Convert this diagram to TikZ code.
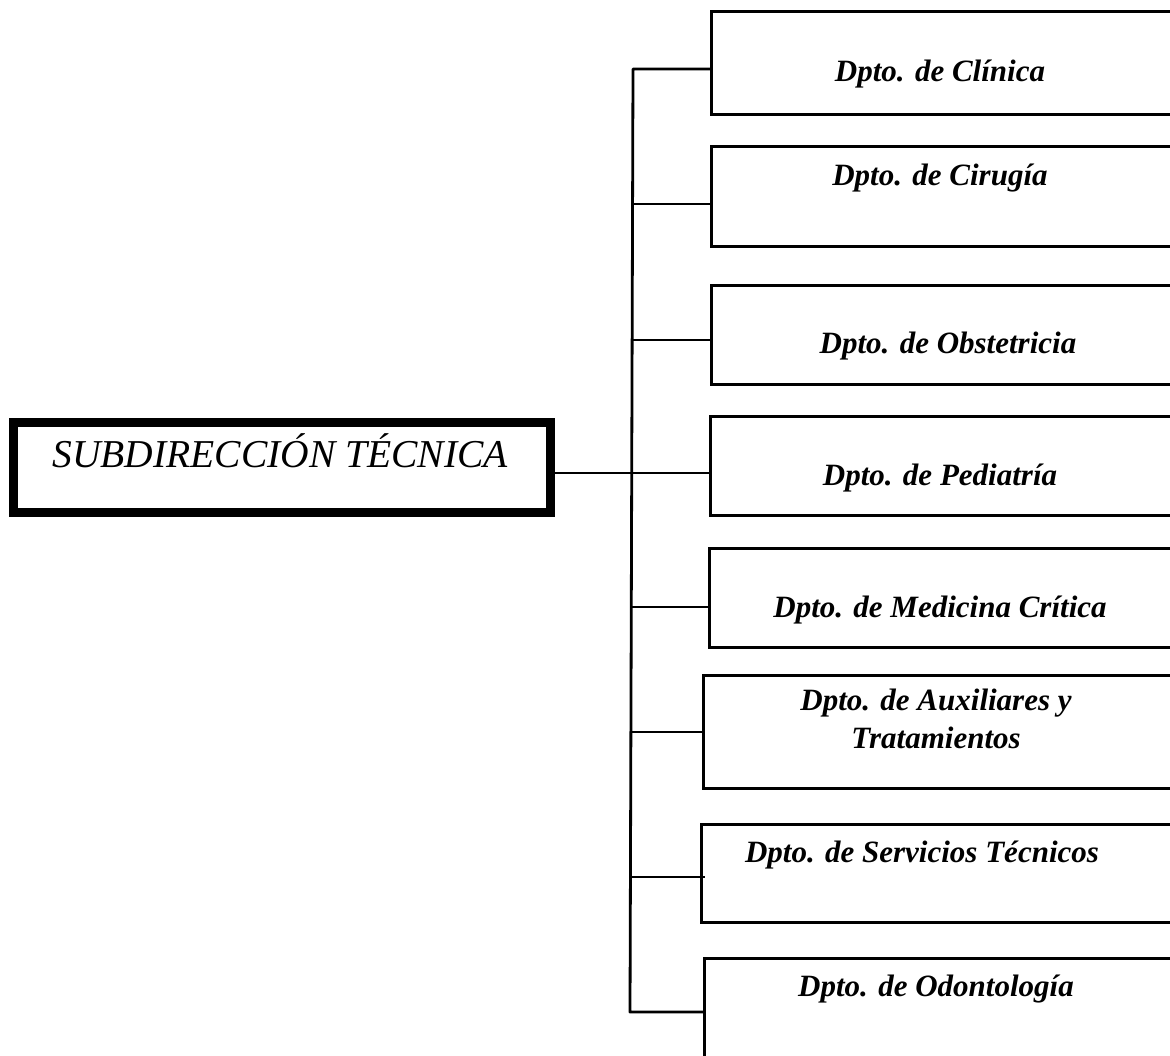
\documentclass[tikz,border=0pt]{standalone}
\usepackage{fontspec}
\setmainfont{Liberation Serif}
\usepackage{tikz}

\begin{document}
\begin{tikzpicture}[x=1pt,y=-1pt,line width=2.8pt,
  main box/.style={rectangle,draw,line width=9pt,inner sep=0pt,minimum width=537pt,minimum height=90pt},
  dpt box/.style={rectangle,draw,inner sep=0pt,anchor=north west},
  main text/.style={anchor=base,inner sep=0pt,font=\fontsize{39.5}{44}\selectfont\itshape},
  dpt text/.style={anchor=base,inner sep=0pt,align=center,font=\fontsize{31}{38}\selectfont\bfseries\itshape}]

  \useasboundingbox (0,0) rectangle (1170,1055);

  % jefatura
  \node[main box] (sub) at (282,467.5) {};
  \node[main text] (subtxt) at (280,467) {SUBDIRECCIÓN TÉCNICA};

  % departamentos
  \node[dpt box,minimum width=461pt,minimum height=103pt] (clin) at (710,10) {};
  \node[dpt box,minimum width=461pt,minimum height=100pt] (ciru) at (710,145) {};
  \node[dpt box,minimum width=461pt,minimum height=99pt] (obst) at (710,284) {};
  \node[dpt box,minimum width=462pt,minimum height=99pt] (pedi) at (709,415) {};
  \node[dpt box,minimum width=463pt,minimum height=99pt] (medi) at (708,547) {};
  \node[dpt box,minimum width=469pt,minimum height=113pt] (auxi) at (702,674) {};
  \node[dpt box,minimum width=471pt,minimum height=98pt] (serv) at (700,823) {};
  \node[dpt box,minimum width=468pt,minimum height=110pt] (odon) at (703,957) {};

  \node[dpt text] (clintxt) at (940,81) {Dpto. de Clínica};
  \node[dpt text] (irutxt) at (940,185) {Dpto. de Cirugía};
  \node[dpt text] (obsttxt) at (948,353) {Dpto. de Obstetricia};
  \node[dpt text] (peditxt) at (940,485) {Dpto. de Pediatría};
  \node[dpt text] (meditxt) at (940,617) {Dpto. de Medicina Crítica};
  \node[dpt text] (auxitxt) at (936,748) {Dpto. de Auxiliares y\\Tratamientos};
  \node[dpt text] (servtxt) at (922,862) {Dpto. de Servicios Técnicos};
  \node[dpt text] (odontxt) at (936,996) {Dpto. de Odontología};

  % barra vertical
  \coordinate (b1) at (633,69);
  \coordinate (b2) at (633,204);
  \coordinate (b3) at (633,340);
  \coordinate (b4) at (632,473);
  \coordinate (b5) at (632,607);
  \coordinate (b6) at (631,732);
  \coordinate (b7) at (631,877);
  \coordinate (b8) at (630,1012);

  \draw[line join=round] (clin.west |- b1) -- (b1) -- (b8) -- (odon.west |- b8);
  \draw (sub.east |- b4) -- (pedi.west |- b4);
  \draw (b2) -- (ciru.west |- b2);
  \draw (b3) -- (obst.west |- b3);
  \draw (b5) -- (medi.west |- b5);
  \draw (b6) -- (auxi.west |- b6);
  \draw (b7) -- ([xshift=5pt]serv.west |- b7);

\end{tikzpicture}
\end{document}
